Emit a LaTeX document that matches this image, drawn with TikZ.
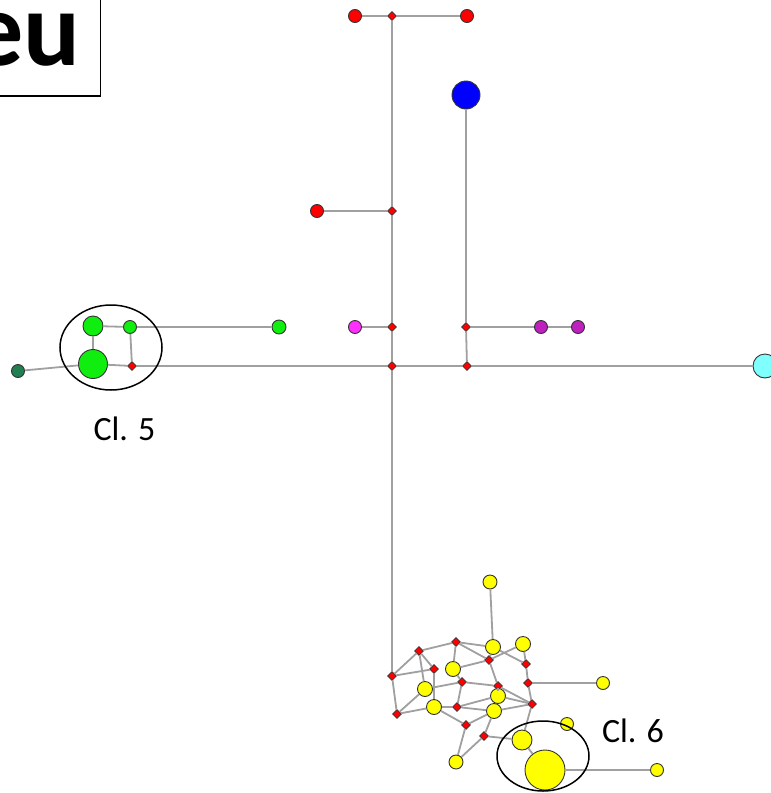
\documentclass[tikz,border=0pt]{standalone}
\usepackage{fontspec}
\setmainfont{Carlito}
\usetikzlibrary{shapes.geometric}
\definecolor{edgegray}{HTML}{A0A0A0}
\definecolor{greenc}{HTML}{10EE10}
\definecolor{dgreen}{HTML}{208050}
\definecolor{magentac}{HTML}{FF30FF}
\definecolor{purplec}{HTML}{C020C0}
\definecolor{cyanc}{HTML}{80FFFF}
\definecolor{yellowc}{HTML}{FFFF00}
\begin{document}
\begin{tikzpicture}[x=1pt,y=-1pt,
  edge/.style={draw=edgegray,line width=1.8pt},
  nd/.style={circle,draw=black!80,line width=0.9pt,inner sep=0pt},
  rd/.style={diamond,fill=red,draw=black!80,line width=0.7pt,inner sep=0pt,minimum width=9pt,minimum height=9pt},
  rc/.style={nd,fill=red,minimum size=13pt},
  ys/.style={nd,fill=yellowc,minimum size=14pt},
  clu/.style={draw=black,line width=1.5pt},
  lbl/.style={font=\fontsize{34}{40}\selectfont,anchor=base,inner sep=0pt}]
\useasboundingbox (0,0) rectangle (771,793);
\clip (0,0) rectangle (771,793);
\fill[white] (0,0) rectangle (771,793);
% title box
\draw[line width=1.5pt] (-5,-5) rectangle (100.5,96);
\node[font=\fontsize{106}{110}\selectfont\bfseries,anchor=base east,inner sep=0pt] (title) at (81,65) {eu};
% upper tree
\node[rc] (t1) at (355,16) {};
\node[rd] (d0) at (392,16) {};
\node[rc] (t2) at (467,16) {};
\node[nd,fill=blue,minimum size=28pt] (blue) at (466,95) {};
\node[rc] (r211) at (317,211) {};
\node[rd] (d1) at (392,211) {};
\node[nd,fill=magentac,minimum size=13pt] (mag) at (355,327) {};
\node[rd] (d2) at (392,327) {};
\node[rd] (d3) at (466,327) {};
\node[nd,fill=purplec,minimum size=13pt] (p1) at (541,327) {};
\node[nd,fill=purplec,minimum size=13pt] (p2) at (578,327) {};
\node[rd] (d4) at (392,366) {};
\node[rd] (d5) at (467,366) {};
\node[nd,fill=cyanc,minimum size=24pt] (cy) at (765,366) {};
% green cluster
\node[nd,fill=greenc,minimum size=20pt] (g1) at (93,326) {};
\node[nd,fill=greenc,minimum size=13pt] (g2) at (130,327) {};
\node[nd,fill=greenc,minimum size=14pt] (g3) at (279,327) {};
\node[nd,fill=greenc,minimum size=29pt] (g4) at (93,364) {};
\node[rd] (d6) at (132,366) {};
\node[nd,fill=dgreen,minimum size=13pt] (dg) at (18,371) {};
% yellow cluster
\node[ys] (T) at (490,582) {};
\node[rd] (R1) at (456,642) {};
\node[rd] (R2) at (419,651) {};
\node[ys,minimum size=15pt] (YA) at (493,647) {};
\node[ys,minimum size=15pt] (YB) at (523,644) {};
\node[rd] (R8) at (489,660) {};
\node[rd] (R9) at (526,664) {};
\node[rd] (R3) at (434,669) {};
\node[ys,minimum size=15pt] (Y1) at (453,669) {};
\node[rd] (R4) at (392,676) {};
\node[rd] (R5) at (462,682) {};
\node[rd] (R10) at (498,686) {};
\node[rd] (R11) at (528,683) {};
\node[ys,minimum size=15pt] (Y2) at (425,689) {};
\node[ys,minimum size=15pt] (Y4) at (498,696) {};
\node[ys,minimum size=15pt] (Y3) at (434,707) {};
\node[rd] (R6) at (457,707) {};
\node[ys,minimum size=15pt] (Y5) at (494,711) {};
\node[rd] (R12) at (532,704) {};
\node[rd] (R7) at (397,714) {};
\node[rd] (R13) at (466,725) {};
\node[rd] (R14) at (484,736) {};
\node[ys] (Y6) at (456,762) {};
\node[ys,minimum size=20pt] (Ym) at (522,740) {};
\node[ys,minimum size=40pt] (Yb) at (545,770) {};
\node[ys,minimum size=13pt] (Yr) at (657,770) {};
\node[ys,minimum size=13pt] (Yr2) at (603,683) {};
\node[ys,minimum size=13pt] (Ys) at (567,724) {};
% edges upper
\draw[edge] (t1) -- (d0) -- (t2);
\draw[edge] (d0) -- (d1) -- (d2) -- (d4) -- (R4);
\draw[edge] (r211) -- (d1);
\draw[edge] (mag) -- (d2);
\draw[edge] (blue) -- (d3) -- (d5);
\draw[edge] (d3) -- (p1) -- (p2);
\draw[edge] (d6) -- (d4) -- (d5) -- (cy);
\draw[edge] (g1) -- (g2) -- (g3);
\draw[edge] (g1) -- (g4);
\draw[edge] (g2) -- (d6);
\draw[edge] (g4) -- (d6);
\draw[edge] (dg) -- (g4);
% edges cluster
\draw[edge] (T) -- (YA);
\draw[edge] (R4) -- (R2) -- (R1) -- (YA);
\draw[edge] (R1) -- (R8);
\draw[edge] (R1) -- (Y1);
\draw[edge] (YA) -- (R8);
\draw[edge] (YA) -- (R9);
\draw[edge] (YB) -- (R8);
\draw[edge] (YB) -- (R9);
\draw[edge] (R8) -- (Y1);
\draw[edge] (R8) -- (R10);
\draw[edge] (R9) -- (R11) -- (Yr2);
\draw[edge] (R2) -- (R3);
\draw[edge] (R2) -- (Y2);
\draw[edge] (R4) -- (R3);
\draw[edge] (R3) -- (Y3);
\draw[edge] (R4) -- (R7) -- (Y3);
\draw[edge] (R7) -- (Y2);
\draw[edge] (Y2) -- (R5);
\draw[edge] (Y1) -- (R5) -- (R6);
\draw[edge] (R5) -- (R10);
\draw[edge] (Y3) -- (R6);
\draw[edge] (R6) -- (Y4);
\draw[edge] (R6) -- (Y5);
\draw[edge] (Y3) -- (R13) -- (Y5);
\draw[edge] (R13) -- (Y6);
\draw[edge] (Y5) -- (R14) -- (Y6);
\draw[edge] (R14) -- (Ym);
\draw[edge] (R12) -- (Ym);
\draw[edge] (Ym) -- (Yb) -- (Yr);
\draw[edge] (R10) -- (Y4);
\draw[edge] (R10) -- (R12);
\draw[edge] (R11) -- (R12);
\draw[edge] (Y5) -- (R12);
\draw[edge] (Y4) -- (R12);
% cluster outlines and labels
\draw[clu] (111,347.5) ellipse [x radius=51pt, y radius=42.5pt];
\draw[clu] (543,756) ellipse [x radius=46pt, y radius=35pt];
\node[lbl] (cl5) at (124.5,440) {Cl. 5};
\node[lbl] (cl6) at (633,742) {Cl. 6};
\end{tikzpicture}
\end{document}
